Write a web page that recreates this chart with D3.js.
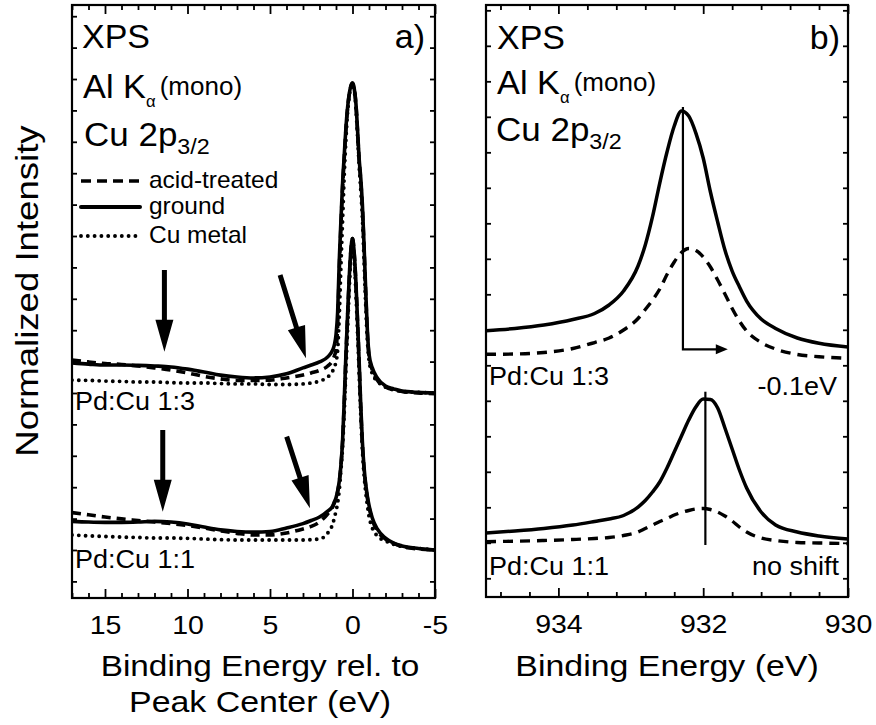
<!DOCTYPE html>
<html><head><meta charset="utf-8">
<script src="https://cdn.jsdelivr.net/npm/d3@7"></script>
<style>
html,body{margin:0;padding:0;background:#fff;}
svg text{font-family:"Liberation Sans",Arial,Helvetica,sans-serif;fill:#000;}
</style></head><body>
<svg id="chart" width="876" height="725"></svg>
<script>
// ---- Panel a: Cu 2p3/2, energy relative to the peak centre (eV) ----
const relEnergy = [17,16,15,14,13,12,11,10,9,8,7,6,5,4,3,2.5,2,1.5,1.2,1.1,1.0,0.9,0.8,0.7,0.6,0.5,0.4,0.3,0.2,0.1,0,
  -0.1,-0.2,-0.3,-0.4,-0.5,-0.6,-0.7,-0.8,-0.9,-1.0,-1.2,-1.5,-2,-2.5,-3,-4,-5];

// Pd:Cu 1:3 (normalized, stacked with offset below)
const ground13 = [0.096,0.092,0.089,0.089,0.088,0.086,0.083,0.076,0.067,0.057,0.051,0.048,0.051,0.061,0.080,
  0.089,0.099,0.115,0.137,0.153,0.185,0.258,0.424,0.551,0.669,0.758,0.844,0.908,0.952,0.978,0.987,
  0.971,0.927,0.844,0.748,0.685,0.599,0.471,0.328,0.201,0.124,0.080,0.048,0.022,0.013,0.006,0.002,0];
const acid13 = [0.105,0.099,0.094,0.091,0.086,0.080,0.073,0.064,0.053,0.045,0.040,0.040,0.041,0.048,0.057,
  0.064,0.072,0.086,0.105,0.118,0.137,0.217,0.392,0.532,0.656,0.748,0.838,0.905,0.949,0.976,0.987,
  0.970,0.924,0.838,0.742,0.675,0.589,0.462,0.319,0.191,0.118,0.073,0.041,0.019,0.010,0.005,0,-0.002];
const metal13 = [0.041,0.040,0.038,0.037,0.035,0.035,0.033,0.032,0.032,0.030,0.029,0.029,0.027,0.027,0.029,
  0.032,0.038,0.051,0.070,0.083,0.099,0.137,0.248,0.408,0.551,0.694,0.806,0.892,0.943,0.973,0.984,
  0.965,0.914,0.825,0.726,0.647,0.557,0.424,0.280,0.169,0.105,0.061,0.038,0.019,0.010,0.005,0.002,0];

// Pd:Cu 1:1
const ground11 = [0.091,0.089,0.088,0.088,0.089,0.091,0.089,0.083,0.073,0.064,0.059,0.057,0.059,0.070,0.084,
  0.094,0.105,0.124,0.140,0.153,0.166,0.188,0.220,0.271,0.350,0.478,0.621,0.748,0.866,0.955,0.992,
  0.949,0.860,0.739,0.605,0.462,0.344,0.264,0.210,0.172,0.143,0.102,0.067,0.038,0.022,0.013,0.005,0];
const acid11 = [0.119,0.112,0.105,0.099,0.094,0.089,0.084,0.078,0.070,0.061,0.053,0.048,0.048,0.054,0.067,
  0.075,0.089,0.115,0.137,0.150,0.162,0.185,0.217,0.268,0.344,0.468,0.612,0.739,0.860,0.952,0.992,
  0.946,0.854,0.733,0.599,0.452,0.334,0.258,0.204,0.166,0.137,0.096,0.061,0.035,0.021,0.011,0.003,0];
const metal11 = [0.048,0.045,0.043,0.041,0.040,0.038,0.038,0.037,0.035,0.033,0.032,0.032,0.032,0.032,0.032,
  0.033,0.035,0.054,0.083,0.102,0.124,0.150,0.191,0.255,0.328,0.440,0.573,0.701,0.828,0.933,0.987,
  0.930,0.828,0.701,0.567,0.430,0.318,0.239,0.185,0.143,0.108,0.070,0.045,0.029,0.018,0.011,0.005,0];

const stackOffsets = [0.5, 0];        // Pd:Cu 1:3, Pd:Cu 1:1
const sampleNames = ["Pd:Cu 1:3", "Pd:Cu 1:1"];
const legendNames = ["acid-treated", "ground", "Cu metal"];

const relMajorTicks = [15, 10, 5, 0, -5];
const relTickLabels = ["15", "10", "5", "0", "-5"];

// ---- Panel b: absolute binding energy (eV) ----
const bindingEnergy = [935,934.6,934.2,933.8,933.5,933.3,933.1,932.9,932.8,932.7,932.6,932.5,932.4,932.3,
  932.2,932.1,932.0,931.9,931.8,931.7,931.6,931.5,931.4,931.2,931.0,930.7,930.4,930.0];
const groundB13 = [6.975,7.037,7.135,7.290,7.459,7.699,8.093,8.797,9.389,10.186,11.135,12.008,12.741,13.163,
  13.022,12.535,11.839,10.882,10.037,9.248,8.656,8.214,7.811,7.304,7.039,6.769,6.620,6.515];
const acidB13 = [6.310,6.318,6.361,6.473,6.642,6.769,6.994,7.318,7.572,7.839,8.149,8.558,8.910,9.177,
  9.290,9.234,9.051,8.769,8.403,8.008,7.600,7.248,6.966,6.642,6.459,6.304,6.242,6.197];
const groundB11 = [1.276,1.332,1.403,1.501,1.600,1.670,1.769,2.008,2.192,2.431,2.713,3.107,3.558,4.008,
  4.459,4.834,5.051,5.037,4.797,4.234,3.642,3.051,2.544,1.868,1.501,1.304,1.192,1.107];
const acidB11 = [1.031,1.045,1.065,1.093,1.121,1.149,1.206,1.304,1.403,1.501,1.600,1.685,1.783,1.854,
  1.910,1.952,1.966,1.938,1.868,1.755,1.614,1.445,1.304,1.135,1.065,1.008,0.994,0.980];

const absMajorTicks = [934, 932, 930];
const absTickLabels = ["934", "932", "930"];

// peak-position markers (eV) and shift notes
const peakGround13 = 932.28, peakShifted13 = 931.66;
const peakGround11 = 931.97;
const shiftNotes = ["-0.1eV", "no shift"];

// ---------------------------------------------------------------
const svg = d3.select("#chart");
const FONT_SX = 1.14;

function label(g, x, y, s, size, sx, anchor) {
  return g.append("text")
    .attr("transform", `translate(${x},${y}) scale(${sx},1)`)
    .attr("font-size", size)
    .attr("text-anchor", anchor || "start")
    .text(s);
}

const A = {l: 72, r: 435, t: 5, b: 598};
const B = {l: 486, r: 848, t: 5, b: 597};

const xA = d3.scaleLinear().domain([17, -5]).range([A.l, A.r]);
const yA = d3.scaleLinear().domain([-0.1529, 1.7357]).range([A.b, A.t]);
const xB = d3.scaleLinear().domain([935, 930]).range([B.l, B.r]);
const yB = d3.scaleLinear().domain([-0.527, 16.15]).range([B.b, B.t]);

const defs = svg.append("defs");
defs.append("clipPath").attr("id", "clipA").append("rect")
  .attr("x", A.l).attr("y", A.t).attr("width", A.r - A.l).attr("height", A.b - A.t);
defs.append("clipPath").attr("id", "clipB").append("rect")
  .attr("x", B.l).attr("y", B.t).attr("width", B.r - B.l).attr("height", B.b - B.t);

const styles = {
  acid:  {w: 3.6, dash: "9 6", cap: "butt"},
  ground:{w: 3.6, dash: null, cap: "round"},
  metal: {w: 3.9, dash: "0 6.8", cap: "round"}
};

function drawCurve(g, xs, ys, xScale, yScale, offset, st) {
  const line = d3.line()
    .x((d, i) => xScale(xs[i]))
    .y(d => yScale(d + offset))
    .curve(d3.curveMonotoneX);
  const p = g.append("path").datum(ys)
    .attr("d", line)
    .attr("fill", "none")
    .attr("stroke", "#000")
    .attr("stroke-width", st.w)
    .attr("stroke-linecap", st.cap)
    .attr("stroke-linejoin", "round");
  if (st.dash) p.attr("stroke-dasharray", st.dash);
  return p;
}

function drawAxes(box, xScale, yScale, major, minor, yTicks, labels) {
  const g = svg.append("g").attr("class", "axes");
  // bottom
  const bot = g.append("g").attr("transform", `translate(0,${box.b})`)
    .call(d3.axisBottom(xScale).tickValues(major).tickSizeInner(-9).tickSizeOuter(0)
      .tickPadding(18).tickFormat((d, i) => labels[i]));
  bot.selectAll("text").attr("font-size", 25).attr("transform", `scale(${FONT_SX},1)`)
    .attr("font-family", "Liberation Sans, Arial, sans-serif");
  g.append("g").attr("transform", `translate(0,${box.b})`)
    .call(d3.axisBottom(xScale).tickValues(minor).tickSizeInner(-5).tickSizeOuter(0).tickFormat(""));
  // top
  g.append("g").attr("transform", `translate(0,${box.t})`)
    .call(d3.axisTop(xScale).tickValues(major).tickSizeInner(-9).tickSizeOuter(0).tickFormat(""));
  g.append("g").attr("transform", `translate(0,${box.t})`)
    .call(d3.axisTop(xScale).tickValues(minor).tickSizeInner(-5).tickSizeOuter(0).tickFormat(""));
  // left / right
  g.append("g").attr("transform", `translate(${box.l},0)`)
    .call(d3.axisLeft(yScale).tickValues(yTicks).tickSizeInner(-5).tickSizeOuter(0).tickFormat(""));
  g.append("g").attr("transform", `translate(${box.r},0)`)
    .call(d3.axisRight(yScale).tickValues(yTicks).tickSizeInner(-5).tickSizeOuter(0).tickFormat(""));
  g.selectAll(".domain").remove();
  g.selectAll(".tick line").attr("stroke", "#000").attr("stroke-width", 1.8);
  // frame
  svg.append("rect").attr("x", box.l).attr("y", box.t)
    .attr("width", box.r - box.l).attr("height", box.b - box.t)
    .attr("fill", "none").attr("stroke", "#000").attr("stroke-width", 2.2);
}

// filled block arrow between two points
function blockArrow(g, p0, p1, shaftW, headL, headW) {
  const dx = p1[0] - p0[0], dy = p1[1] - p0[1];
  const len = Math.hypot(dx, dy);
  const ux = dx / len, uy = dy / len, nx = -uy, ny = ux;
  const bx = p1[0] - ux * headL, by = p1[1] - uy * headL;
  const pts = [
    [p0[0] + nx * shaftW / 2, p0[1] + ny * shaftW / 2],
    [bx + nx * shaftW / 2, by + ny * shaftW / 2],
    [bx + nx * headW / 2, by + ny * headW / 2],
    p1,
    [bx - nx * headW / 2, by - ny * headW / 2],
    [bx - nx * shaftW / 2, by - ny * shaftW / 2],
    [p0[0] - nx * shaftW / 2, p0[1] - ny * shaftW / 2]
  ];
  g.append("polygon").attr("points", pts.map(p => p.join(",")).join(" ")).attr("fill", "#000");
}

// ================= Panel a =================
const gA = svg.append("g").attr("clip-path", "url(#clipA)");
const seriesA = [
  [metal13, acid13, ground13],
  [metal11, acid11, ground11]
];
seriesA.forEach((set, k) => {
  drawCurve(gA, relEnergy, set[0], xA, yA, stackOffsets[k], styles.metal);
  drawCurve(gA, relEnergy, set[1], xA, yA, stackOffsets[k], styles.acid);
  drawCurve(gA, relEnergy, set[2], xA, yA, stackOffsets[k], styles.ground);
});

// satellite / shoulder arrows (energy, stacked intensity)
const satelliteArrows = [
  [[11.4, 0.892], [11.4, 0.631]],
  [[4.39, 0.876], [2.82, 0.611]],
  [[11.5, 0.382], [11.5, 0.122]],
  [[3.99, 0.361], [2.58, 0.133]]
];
satelliteArrows.forEach(a => blockArrow(gA,
  [xA(a[0][0]), yA(a[0][1])], [xA(a[1][0]), yA(a[1][1])], 5, 32, 18));

drawAxes(A, xA, yA, relMajorTicks,
  d3.range(-5, 18).filter(v => v % 5 !== 0),
  d3.range(-1, 18).map(v => v / 10), relTickLabels);

// header text
const tA = svg.append("g");
label(tA, 82, 48, "XPS", 33, 1.03);
label(tA, 425, 48, "a)", 33, 1.03, "end");
{
  const t = tA.append("text").attr("transform", "translate(83,98) scale(1.04,1)").attr("font-size", 33);
  t.append("tspan").text("Al K");
  t.append("tspan").attr("font-size", 16).attr("dy", 9).text("\u03B1");
  t.append("tspan").attr("font-size", 25).attr("dy", -12).attr("dx", 4).text("(mono)");
  const c = tA.append("text").attr("transform", "translate(84,146) scale(1.06,1)").attr("font-size", 33);
  c.append("tspan").text("Cu 2p");
  c.append("tspan").attr("font-size", 22).attr("dy", 8).text("3/2");
}
// legend
const legendY = [181, 207, 236];
const legendStyles = [styles.acid, styles.ground, styles.metal];
legendNames.forEach((name, i) => {
  const st = legendStyles[i];
  const ln = tA.append("line").attr("x1", 81).attr("x2", 140)
    .attr("y1", legendY[i]).attr("y2", legendY[i])
    .attr("stroke", "#000").attr("stroke-width", i === 1 ? 4 : st.w)
    .attr("stroke-linecap", st.cap);
  if (st.dash) ln.attr("stroke-dasharray", i === 0 ? "10 6" : st.dash);
  label(tA, 149, legendY[i] + 7, name, 24, 1.02);
});
label(tA, 75, 410, sampleNames[0], 25, 1.08);
label(tA, 75, 568, sampleNames[1], 25, 1.08);

// ================= Panel b =================
const gB = svg.append("g").attr("clip-path", "url(#clipB)");
const stB = {
  acid: {w: 3.4, dash: "10 7", cap: "butt"},
  ground: {w: 3.5, dash: null, cap: "round"}
};
drawCurve(gB, bindingEnergy, acidB13, xB, yB, 0, stB.acid);
drawCurve(gB, bindingEnergy, groundB13, xB, yB, 0, stB.ground);
drawCurve(gB, bindingEnergy, acidB11, xB, yB, 0, stB.acid);
drawCurve(gB, bindingEnergy, groundB11, xB, yB, 0, stB.ground);

// peak-position markers
const mk = gB.append("g").attr("stroke", "#000").attr("stroke-width", 2.2).attr("fill", "none");
const yShift = 6.45;
mk.append("path").attr("d",
  `M${xB(peakGround13)},${yB(13.28)} V${yB(yShift)} H${xB(peakShifted13) - 10}`);
gB.append("polygon").attr("fill", "#000").attr("points", [
  [xB(peakShifted13), yB(yShift)],
  [xB(peakShifted13) - 12, yB(yShift) - 5],
  [xB(peakShifted13) - 12, yB(yShift) + 5]
].map(p => p.join(",")).join(" "));
mk.append("line").attr("x1", xB(peakGround11)).attr("x2", xB(peakGround11))
  .attr("y1", yB(5.256)).attr("y2", yB(0.938));

drawAxes(B, xB, yB, absMajorTicks,
  d3.range(1, 13).filter(k => k % 5 !== 0).map(k => 930 + 0.4 * k),
  d3.range(0, 17), absTickLabels);

const tB = svg.append("g");
label(tB, 497, 49, "XPS", 33, 1.03);
label(tB, 840, 49, "b)", 33, 1.03, "end");
{
  const t = tB.append("text").attr("transform", "translate(497,94) scale(1.04,1)").attr("font-size", 33);
  t.append("tspan").text("Al K");
  t.append("tspan").attr("font-size", 16).attr("dy", 9).text("\u03B1");
  t.append("tspan").attr("font-size", 25).attr("dy", -12).attr("dx", 4).text("(mono)");
  const c = tB.append("text").attr("transform", "translate(496,141) scale(1.06,1)").attr("font-size", 33);
  c.append("tspan").text("Cu 2p");
  c.append("tspan").attr("font-size", 22).attr("dy", 8).text("3/2");
}
label(tB, 489, 385, sampleNames[0], 25, 1.08);
label(tB, 489, 575, sampleNames[1], 25, 1.08);
label(tB, 837, 395, shiftNotes[0], 25, 1.08, "end");
label(tB, 839, 575, shiftNotes[1], 25, 1.08, "end");

// ================= axis titles =================
label(svg, 38, 291, "Normalized Intensity", 31, 1.18, "middle")
  .attr("transform", "translate(38,291) rotate(-90) scale(1.18,1)");
label(svg, 260, 676, "Binding Energy rel. to", 29.5, 1.13, "middle");
label(svg, 260, 712, "Peak Center (eV)", 29.5, 1.15, "middle");
label(svg, 667, 676, "Binding Energy (eV)", 29.5, 1.15, "middle");
</script>
</body></html>
